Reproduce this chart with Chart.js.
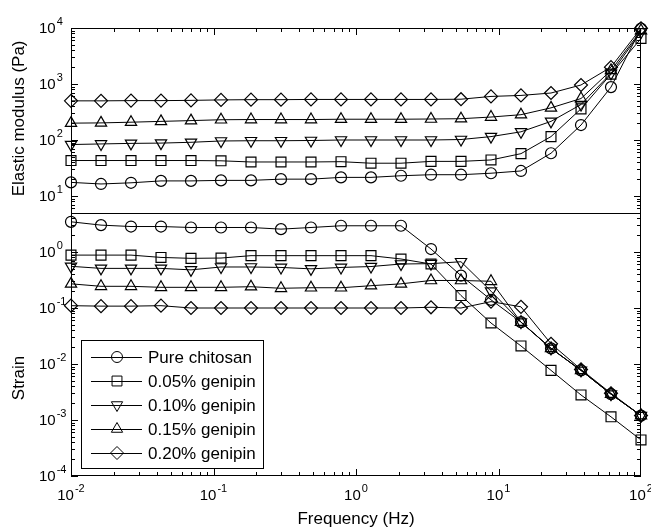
<!DOCTYPE html>
<html>
<head>
<meta charset="utf-8">
<script src="https://cdn.jsdelivr.net/npm/chart.js@4/dist/chart.umd.min.js"></script>
<style>
html,body{margin:0;padding:0;background:#fff;}
#wrap{width:651px;height:528px;position:relative;}
canvas{display:block;}
</style>
</head>
<body>
<div id="wrap"><canvas id="c" width="651" height="528"></canvas></div>
<script>
// ---------- data ----------
const frequencyHz = [0.01, 0.01624, 0.02637, 0.04281, 0.06952, 0.1129, 0.1833, 0.2976, 0.4833, 0.7848,
                     1.274, 2.069, 3.360, 5.456, 8.859, 14.38, 23.36, 37.93, 61.58, 100];
const seriesNames = ['Pure chitosan', '0.05% genipin', '0.10% genipin', '0.15% genipin', '0.20% genipin'];

// Elastic modulus (Pa)
const modulusPure = [17.5, 16.4, 17.2, 18.6, 18.6, 19, 19, 20, 20, 21.5, 21.5, 23, 24, 24, 25.5, 28, 58, 185, 880, 9800];
const modulus005  = [43, 43, 43, 43, 43, 42.5, 40.5, 40.5, 40.5, 41, 38.5, 38.5, 41.5, 41.5, 44, 57, 115, 360, 1500, 6500];
const modulus010  = [83, 85, 87, 88, 91, 96, 97, 97, 98, 100, 100, 100, 100, 102, 115, 140, 215, 430, 1550, 8500];
const modulus015  = [200, 202, 208, 215, 222, 230, 232, 232, 232, 235, 235, 235, 237, 240, 257, 283, 375, 550, 1750, 9000];
const modulus020  = [500, 500, 505, 505, 510, 520, 525, 525, 530, 530, 530, 530, 530, 535, 600, 625, 690, 960, 2000, 9900];

// Strain
const strainPure = [3.46, 3.02, 2.85, 2.85, 2.74, 2.74, 2.74, 2.56, 2.74, 2.94, 2.94, 2.94, 1.13, 0.378, 0.14, 0.056, 0.019, 0.0077, 0.0029, 0.0012];
const strain005  = [0.88, 0.88, 0.88, 0.80, 0.77, 0.78, 0.86, 0.86, 0.86, 0.86, 0.86, 0.75, 0.61, 0.167, 0.054, 0.021, 0.0077, 0.0028, 0.00114, 0.00044];
const strain010  = [0.555, 0.51, 0.51, 0.51, 0.48, 0.54, 0.54, 0.53, 0.50, 0.53, 0.55, 0.61, 0.62, 0.67, 0.20, 0.056, 0.019, 0.0077, 0.0029, 0.0012];
const strain015  = [0.27, 0.244, 0.244, 0.234, 0.234, 0.234, 0.24, 0.225, 0.23, 0.23, 0.25, 0.27, 0.31, 0.31, 0.30, 0.056, 0.019, 0.0077, 0.0029, 0.0012];
const strain020  = [0.11, 0.108, 0.108, 0.11, 0.10, 0.10, 0.10, 0.10, 0.10, 0.10, 0.10, 0.10, 0.103, 0.10, 0.13, 0.105, 0.023, 0.008, 0.003, 0.0012];

// tick labels (powers of ten)
const xTickExponents = [-2, -1, 0, 1, 2];
const modulusTickExponents = [1, 2, 3, 4];
const strainTickExponents = [-4, -3, -2, -1, 0];

const xTitle = 'Frequency (Hz)';
const modulusTitle = 'Elastic modulus (Pa)';
const strainTitle = 'Strain';

// axis ranges
const xMin = 0.01, xMax = 100;
const modulusMin = 5, modulusMax = 10000;
const strainMin = 1e-4, strainMax = 5;

// ---------- styling ----------
const FONT = '"Liberation Sans", Arial, Helvetica, sans-serif';
const markerStyles = [
  {pointStyle: 'circle',   radius: 5.5, rotation: 0},
  {pointStyle: 'rect',     radius: 7,   rotation: 0},
  {pointStyle: 'triangle', radius: 6.5, rotation: 180},
  {pointStyle: 'triangle', radius: 6.5, rotation: 0},
  {pointStyle: 'rectRot',  radius: 6.5, rotation: 0}
];
const modulusSeries = [modulusPure, modulus005, modulus010, modulus015, modulus020];
const strainSeries = [strainPure, strain005, strain010, strain015, strain020];

function makeDataset(name, values, axisId, idx) {
  const s = markerStyles[idx];
  return {
    label: name,
    data: frequencyHz.map((f, i) => ({x: f, y: values[i]})),
    yAxisID: axisId,
    borderColor: '#000',
    borderWidth: 1,
    backgroundColor: 'rgba(0,0,0,0)',
    pointBackgroundColor: 'rgba(0,0,0,0)',
    pointBorderColor: '#000',
    pointBorderWidth: 1.2,
    pointStyle: s.pointStyle,
    pointRadius: s.radius,
    pointRotation: s.rotation,
    tension: 0,
    clip: false
  };
}
const datasets = [];
seriesNames.forEach((n, i) => datasets.push(makeDataset(n, modulusSeries[i], 'yG', i)));
seriesNames.forEach((n, i) => datasets.push(makeDataset(n, strainSeries[i], 'yS', i)));

function hiddenAxis(extra) {
  return Object.assign({
    ticks: {display: false},
    grid: {display: false, drawTicks: false},
    border: {display: false},
    title: {display: false}
  }, extra);
}

function drawPow(ctx, exp, x, y, align) {
  const base = '10', sup = String(exp);
  ctx.font = '15px ' + FONT;
  const wb = ctx.measureText(base).width;
  ctx.font = '11px ' + FONT;
  const ws = ctx.measureText(sup).width;
  const total = wb + 1 + ws;
  let x0 = x;
  if (align === 'center') x0 = x - total / 2;
  else if (align === 'right') x0 = x - total;
  ctx.textAlign = 'left';
  ctx.textBaseline = 'alphabetic';
  ctx.font = '15px ' + FONT;
  ctx.fillText(base, x0, y);
  ctx.font = '11px ' + FONT;
  ctx.fillText(sup, x0 + wb + 1, y - 8);
}

function drawMarker(ctx, idx, x, y) {
  const s = markerStyles[idx];
  Chart.helpers.drawPoint(ctx, {pointStyle: s.pointStyle, radius: s.radius, rotation: s.rotation, borderWidth: 1.2}, x, y);
}

const framePlugin = {
  id: 'frame',
  afterDraw(chart) {
    const ctx = chart.ctx;
    const xs = chart.scales.x, yG = chart.scales.yG, yS = chart.scales.yS;
    const L = xs.left, R = xs.right, T = yG.top, B = yS.bottom, D = yG.bottom;
    ctx.save();
    ctx.strokeStyle = '#000';
    ctx.fillStyle = '#000';
    ctx.lineWidth = 1;
    // frame + divider
    ctx.strokeRect(L + 0.5, T + 0.5, R - L - 1, B - T - 1);
    ctx.beginPath();
    ctx.moveTo(L, Math.round(D) + 0.5); ctx.lineTo(R, Math.round(D) + 0.5);
    ctx.stroke();

    // x ticks (top and bottom, inward)
    ctx.beginPath();
    for (let e = -2; e < 2; e++) {
      for (let m = 1; m <= 9; m++) {
        const v = m * Math.pow(10, e);
        const px = Math.round(xs.getPixelForValue(v)) + 0.5;
        const len = m === 1 ? 7 : 4;
        ctx.moveTo(px, B); ctx.lineTo(px, B - len);
        ctx.moveTo(px, T); ctx.lineTo(px, T + len);
      }
    }
    // y ticks for each panel (left and right, inward)
    const yTicks = (scale, eMin, eMax) => {
      for (let e = eMin; e <= eMax; e++) {
        for (let m = 1; m <= 9; m++) {
          const v = m * Math.pow(10, e);
          if (v < scale.min * 0.999 || v > scale.max * 1.001) continue;
          const py = Math.round(scale.getPixelForValue(v)) + 0.5;
          const len = m === 1 ? 7 : 4;
          ctx.moveTo(L, py); ctx.lineTo(L + len, py);
          ctx.moveTo(R, py); ctx.lineTo(R - len, py);
        }
      }
    };
    yTicks(yG, 0, 4);
    yTicks(yS, -4, 0);
    ctx.stroke();

    // tick labels
    xTickExponents.forEach(e => drawPow(ctx, e, xs.getPixelForValue(Math.pow(10, e)), B + 24, 'center'));
    modulusTickExponents.forEach(e => drawPow(ctx, e, 39, yG.getPixelForValue(Math.pow(10, e)) + 5, 'left'));
    strainTickExponents.forEach(e => drawPow(ctx, e, 39, yS.getPixelForValue(Math.pow(10, e)) + 5, 'left'));

    // axis titles
    ctx.font = '17px ' + FONT;
    ctx.textAlign = 'center';
    ctx.textBaseline = 'alphabetic';
    ctx.fillText(xTitle, (L + R) / 2, 524);
    ctx.save();
    ctx.translate(24, (T + D) / 2 - 2);
    ctx.rotate(-Math.PI / 2);
    ctx.fillText(modulusTitle, 0, 0);
    ctx.restore();
    ctx.save();
    ctx.translate(24, 378);
    ctx.rotate(-Math.PI / 2);
    ctx.fillText(strainTitle, 0, 0);
    ctx.restore();

    // legend
    const lx = 81, ly = 340, lw = 182, lh = 128;
    ctx.fillStyle = '#fff';
    ctx.fillRect(lx, ly, lw, lh);
    ctx.strokeStyle = '#000';
    ctx.lineWidth = 1;
    ctx.strokeRect(lx + 0.5, ly + 0.5, lw, lh);
    ctx.fillStyle = '#000';
    seriesNames.forEach((name, i) => {
      const ry = 357 + i * 24;
      ctx.beginPath();
      ctx.lineWidth = 1;
      ctx.moveTo(91, ry + 0.5); ctx.lineTo(142, ry + 0.5);
      ctx.stroke();
      ctx.strokeStyle = '#000';
      ctx.fillStyle = 'rgba(0,0,0,0)';
      drawMarker(ctx, i, 117, ry);
      ctx.fillStyle = '#000';
      ctx.font = '17px ' + FONT;
      ctx.textAlign = 'left';
      ctx.textBaseline = 'middle';
      ctx.fillText(name, 148, ry + 1);
    });
    ctx.restore();
  }
};

new Chart(document.getElementById('c'), {
  type: 'line',
  data: {datasets},
  options: {
    responsive: false,
    animation: false,
    devicePixelRatio: 1,
    layout: {padding: {left: 71, right: 10, top: 28, bottom: 52}},
    plugins: {legend: {display: false}, tooltip: {enabled: false}},
    scales: {
      x: hiddenAxis({type: 'logarithmic', position: 'bottom', min: xMin, max: xMax}),
      yS: hiddenAxis({type: 'logarithmic', position: 'left', min: strainMin, max: strainMax,
                      stack: 'panels', stackWeight: Math.log10(strainMax / strainMin)}),
      yG: hiddenAxis({type: 'logarithmic', position: 'left', min: modulusMin, max: modulusMax,
                      stack: 'panels', stackWeight: Math.log10(modulusMax / modulusMin)})
    }
  },
  plugins: [framePlugin]
});
</script>
</body>
</html>
